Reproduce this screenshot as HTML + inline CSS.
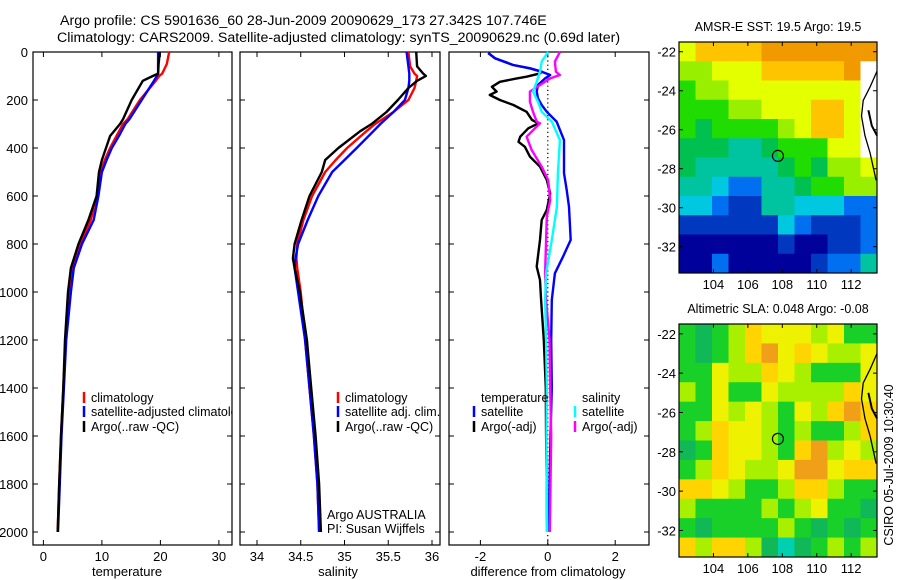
<!DOCTYPE html>
<html><head><meta charset="utf-8"><style>
body{margin:0;background:#fff;}
svg{display:block;font-family:"Liberation Sans",sans-serif;}
</style></head><body>
<svg id="c" width="900" height="580" viewBox="0 0 900 580" xmlns="http://www.w3.org/2000/svg">
<defs><clipPath id="clip1"><rect x="33" y="52" width="199" height="493"/></clipPath></defs>
<text x="60" y="25" font-size="14.2">Argo profile: CS 5901636_60 28-Jun-2009 20090629_173 27.342S 107.746E</text>
<text x="57" y="42" font-size="14.2">Climatology: CARS2009. Satellite-adjusted climatology: synTS_20090629.nc (0.69d later)</text>
</svg>
<script>
// ---------- data ----------
const tDepth = [0,50,90,100,120,200,280,300,350,400,450,500,600,700,800,900,1000,1200,1400,1600,1800,2000];
const tArgo  = [19.9,19.7,19.6,18.7,17,15.1,13.6,13.1,11.4,10.7,10,9.5,9.1,7.7,6,4.7,4.2,3.7,3.4,3.0,2.7,2.45];
const tClim  = [21.5,21.1,20.3,19.8,19.2,16.5,14.4,13.6,12.5,11.4,10.5,9.8,9.2,8.1,6.3,5,4.4,3.8,3.4,3.0,2.7,2.45];
const tSat   = [19.6,19.6,19.6,19.4,18.9,16.8,14.7,14,12.9,11.7,10.8,10,9.4,8.6,6.6,5.2,4.7,3.9,3.5,3.1,2.8,2.5];
const sDepth = [0,60,90,100,120,150,200,250,300,330,400,450,500,600,700,800,860,900,1000,1200,1400,1600,1800,2000];
const sArgo  = [35.82,35.83,35.9,35.93,35.83,35.73,35.61,35.48,35.31,35.18,34.93,34.78,34.74,34.6,34.51,34.43,34.41,34.43,34.49,34.57,34.62,34.67,34.71,34.73];
const sClim  = [35.73,35.75,35.8,35.83,35.82,35.8,35.73,35.56,35.35,35.25,35.03,34.9,34.78,34.63,34.53,34.46,34.45,34.46,34.5,34.55,34.6,34.65,34.69,34.71];
const sSat   = [35.71,35.73,35.74,35.74,35.74,35.73,35.69,35.56,35.41,35.33,35.14,35.0,34.86,34.7,34.58,34.47,34.44,34.43,34.47,34.55,34.6,34.65,34.69,34.71];
const dTSatDepth = [4,26,54,68,82,96,110,137,165,193,221,249,290,367,505,575,645,783,853,922,1033,1200,1400,1600,1800,2000];
const dTSat      = [-1.77,-1.57,-1.03,-0.53,-0.18,0.07,-0.08,-0.29,-0.33,-0.29,-0.18,-0.03,0.26,0.48,0.48,0.56,0.63,0.68,0.45,0.21,0.12,0.1,0.12,0.08,0.05,0.03];
const dTArgoDepth = [4,26,54,68,82,89,103,110,124,145,165,179,200,221,249,283,297,318,353,374,395,436,478,533,589,658,700,783,894,950,1033,1200,1400,1600,1800,2000];
const dTArgo      = [-1.77,-1.57,-1.03,-0.53,-0.18,-0.23,-0.63,-0.92,-1.42,-1.66,-1.52,-1.72,-1.42,-1.02,-0.63,-0.47,-0.28,-0.58,-0.82,-0.87,-0.68,-0.53,-0.23,-0.03,0.07,-0.03,-0.18,-0.23,-0.33,-0.23,-0.2,-0.12,-0.06,-0.05,-0.03,-0.02];
const dSSatDepth = [0,40,82,124,165,207,249,290,367,505,645,783,922,1033,1200,1400,1600,1800,2000];
const dSSat      = [0.01,-0.18,-0.23,-0.33,-0.44,-0.29,-0.18,0.12,0.36,0.30,0.27,0.12,-0.05,-0.08,-0.05,-0.03,-0.04,-0.03,-0.02];
const dSArgoDepth = [0,40,82,96,110,165,207,249,290,297,353,408,478,533,617,686,783,922,1033,1200,1400,1600,1800,2000];
const dSArgo      = [0.36,0.21,0.24,0.36,0.07,-0.53,-0.53,-0.44,-0.33,-0.23,-0.63,-0.48,-0.18,0.01,0.07,-0.03,-0.05,-0.08,-0.05,0.05,0.07,0.1,0.08,0.06];
const depthTicks = [0,200,400,600,800,1000,1200,1400,1600,1800,2000];
const tempTicks = [0,10,20,30];
const salTicks = [34,34.5,35,35.5,36];
const salTickLabels = ["34","34.5","35","35.5","36"];
const diffTicks = [-2,0,2];
const lonTicks = [104,106,108,110,112];
const latTicks = [22,24,26,28,30,32];
const sstGrid = [
"yYYYYOOOOOOO","LLyyyYYYYYOW","GLLyyyyyyyyW","GGGLLyyyYYyW","GgGGGGLyYYyW","gggTTgGGGyyW",
"gTTTTTgGgLLy","TTCBBTTgGGLL","CCBbbTTCCCBB","bbbbbbCBbbbB","NNNNNNbNNbbB","NNBNNNNNbBBT"];
const slaGrid = [
"GgGLYyyyLyGG","GgGLYOyYyLLy","GGyLLYyLGGGy","LGyGGyLLLLYy","GGyLyLGyLYOY","GLYyyLGLGGLY",
"gGYyyLGYOLyL","GLYyLLyOOyYY","YYyLGGLYYLGG","LGGGGLGLyGGg","GgGGGGLGgGgG","YLYYLgTgGLGL"];
const floatLon = 107.746, floatLat = 27.342;

// ---------- helpers ----------
const svg = document.getElementById('c');
const NS = 'http://www.w3.org/2000/svg';
function mk(tag, attrs, parent){const e=document.createElementNS(NS,tag);for(const k in attrs)e.setAttribute(k,attrs[k]);(parent||svg).appendChild(e);return e;}
const yTop=52, yPer=0.24, panelBottom=545;
const yD = d => yTop + d*yPer;
const panels = [
 {name:'temperature-panel', x0:33, x1:232, v0:(33-43.4)/5.85, scale:5.85, ticks:tempTicks, labels:tempTicks.map(String), xlabel:'temperature', lx:127},
 {name:'salinity-panel', x0:240, x1:440, v0:34-(257-240)/87.5, scale:87.5, ticks:salTicks, labels:salTickLabels, xlabel:'salinity', lx:338},
 {name:'difference-panel', x0:449, x1:649, v0:-(547.8-449)/33.7, scale:33.7, ticks:diffTicks, labels:diffTicks.map(String), xlabel:'difference from climatology', lx:548}
];
panels.forEach((p,i)=>{
  p.xf = v => p.x0 + (v-p.v0)*p.scale;
  const g = mk('g',{});
  
  
  p.g = g;
  const r = mk('rect',{x:p.x0,y:yTop,width:p.x1-p.x0,height:panelBottom-yTop,fill:'none',stroke:'#000','stroke-width':1.2},g);
  
  
  p.ticks.forEach((t,j)=>{
    const x=p.xf(t);
    mk('line',{x1:x,x2:x,y1:panelBottom,y2:panelBottom-5,stroke:'#000'},g);
    mk('line',{x1:x,x2:x,y1:yTop,y2:yTop+5,stroke:'#000'},g);
    const tl = mk('text',{x:x,y:561,'font-size':13,'text-anchor':'middle'},g);
    tl.textContent = p.labels[j];
    
    
  });
  depthTicks.forEach(d=>{
    mk('line',{x1:p.x0,x2:p.x0+5,y1:yD(d),y2:yD(d),stroke:'#000'},g);
    mk('line',{x1:p.x1,x2:p.x1-5,y1:yD(d),y2:yD(d),stroke:'#000'},g);
    if(i===0){
      const tl = mk('text',{x:28,y:yD(d)+5,'font-size':13,'text-anchor':'end'},g);
      tl.textContent = String(d);
      
      
    }
  });
  const xl = mk('text',{x:p.lx,y:576,'font-size':13,'text-anchor':'middle'},g);
  xl.textContent = p.xlabel;
  
  
});
function series(p, depths, vals, color, name, w){
  const pts = depths.map((d,k)=>p.xf(vals[k]).toFixed(1)+','+yD(d).toFixed(1)).join(' ');
  const pl = mk('polyline',{points:pts,fill:'none',stroke:color,'stroke-width':w||2.4,'stroke-linejoin':'round'},p.g);
  
  
}
const zl = mk('line',{x1:panels[2].xf(0),x2:panels[2].xf(0),y1:yTop,y2:panelBottom,stroke:'#000','stroke-dasharray':'1.2,3','stroke-width':1.2},panels[2].g);


series(panels[0], tDepth, tClim, '#f00', 'temperature-climatology-line');
series(panels[0], tDepth, tSat, '#00f', 'temperature-satellite-line');
series(panels[0], tDepth, tArgo, '#000', 'temperature-argo-line');
series(panels[1], sDepth, sClim, '#f00', 'salinity-climatology-line');
series(panels[1], sDepth, sSat, '#00f', 'salinity-satellite-line');
series(panels[1], sDepth, sArgo, '#000', 'salinity-argo-line');
series(panels[2], dTArgoDepth, dTArgo, '#000', 'temperature-argo-diff-line');
series(panels[2], dTSatDepth, dTSat, '#00f', 'temperature-satellite-diff-line');
series(panels[2], dSArgoDepth, dSArgo, '#f0f', 'salinity-argo-diff-line');
series(panels[2], dSSatDepth, dSSat, '#0ff', 'salinity-satellite-diff-line');

function legend(x, y, color, label, name, clip){
  const g = mk('g',{});
  
  
  if(clip) g.setAttribute('clip-path','url(#clip1)');
  if(color) mk('line',{x1:x,x2:x,y1:y-10,y2:y+1,stroke:color,'stroke-width':2.5},g);
  const t = mk('text',{x:x+7,y:y,'font-size':12.5},g);
  t.textContent = label;
}
legend(84,402,'#f00','climatology','legend-climatology',true);
legend(84,416,'#00f','satellite-adjusted climatology','legend-satellite-adjusted',true);
legend(84,431,'#000','Argo(..raw -QC)','legend-argo',true);
legend(338,402,'#f00','climatology','legend-sal-climatology');
legend(338,416,'#00f','satellite adj. clim.','legend-sal-satellite');
legend(338,431,'#000','Argo(..raw -QC)','legend-sal-argo');
legend(474,402,null,'temperature','legend-temperature-header');
legend(474,416,'#00f','satellite','legend-temp-satellite');
legend(474,431,'#000','Argo(-adj)','legend-temp-argo');
legend(575,402,null,'salinity','legend-salinity-header');
legend(575,416,'#0ff','satellite','legend-sal-satellite-diff');
legend(575,431,'#f0f','Argo(-adj)','legend-sal-argo-diff');
const a1 = mk('text',{x:327,y:519,'font-size':12.5}); a1.textContent='Argo AUSTRALIA';


const a2 = mk('text',{x:327,y:533,'font-size':12.5}); a2.textContent='PI: Susan Wijffels';



const palSST = {O:'#f09a00',Y:'#ffc400',y:'#e4ff00',L:'#98f000',G:'#20dc00',g:'#00c050',T:'#00c4a0',C:'#00c8e0',B:'#0070f0',b:'#0038c0',N:'#00009a',W:'#ffffff'};
const palSLA = {G:'#18d028',g:'#10b858',L:'#a8f000',y:'#eef200',Y:'#ffd400',O:'#f0a018',T:'#00d0b0'};
function map(name, top, bottom, grid, pal, title){
  const g = mk('g',{});
  
  
  const x0=679, x1=877, lon0=102.0, lon1=113.5, lat0=21.5, lat1=33.35;
  const xf = lon => x0+(lon-lon0)*(x1-x0)/(lon1-lon0);
  const yf = lat => top+(lat-lat0)*(bottom-top)/(lat1-lat0);
  const rows=grid.length, cols=grid[0].length;
  const cw=(x1-x0)/cols, ch=(bottom-top)/rows;
  grid.forEach((row,r)=>{[...row].forEach((c,k)=>{
    mk('rect',{x:x0+k*cw,y:top+r*ch,width:cw+0.5,height:ch+0.5,fill:pal[c]},g);
  });});
  const coast=[[113.5,23.0],[113.1,23.8],[112.7,24.5],[112.6,25.3],[112.8,26.3],[113.1,27.2],[113.3,28.0],[113.45,28.6]];
  mk('polyline',{points:coast.map(p=>xf(p[0])+','+yf(p[1])).join(' '),fill:'none',stroke:'#000','stroke-width':1.3},g);
  mk('polyline',{points:[[113.0,25.0],[113.2,25.8],[113.5,26.3]].map(p=>xf(p[0])+','+yf(p[1])).join(' '),fill:'none',stroke:'#000','stroke-width':2},g);
  const fr = mk('rect',{x:x0,y:top,width:x1-x0,height:bottom-top,fill:'none',stroke:'#000','stroke-width':1.2},g);
  
  
  lonTicks.forEach(l=>{
    const x=xf(l);
    mk('line',{x1:x,x2:x,y1:top,y2:top+4,stroke:'#000'},g);
    mk('line',{x1:x,x2:x,y1:bottom,y2:bottom-4,stroke:'#000'},g);
    const t=mk('text',{x:x,y:bottom+16,'font-size':13,'text-anchor':'middle'},g);
    t.textContent=String(l);
    
    
  });
  latTicks.forEach(l=>{
    const y=yf(l);
    mk('line',{x1:x0,x2:x0+4,y1:y,y2:y,stroke:'#000'},g);
    mk('line',{x1:x1,x2:x1-4,y1:y,y2:y,stroke:'#000'},g);
    const t=mk('text',{x:676,y:y+5,'font-size':13,'text-anchor':'end'},g);
    t.textContent='-'+l;
    
    
  });
  const c = mk('circle',{cx:xf(floatLon),cy:yf(floatLat),r:5.5,fill:'none',stroke:'#000','stroke-width':1.2},g);
  
  
  const tt=mk('text',{x:(x0+x1)/2,y:top-11,'font-size':12.5,'text-anchor':'middle'},g);
  tt.textContent=title;
  
  
}
map('sst-map',42,273,sstGrid,palSST,'AMSR-E SST: 19.5 Argo: 19.5');
map('sla-map',324,557,slaGrid,palSLA,'Altimetric SLA: 0.048 Argo: -0.08');
const ts = mk('text',{x:0,y:0,'font-size':12.5,'text-anchor':'middle',transform:'translate(893,465) rotate(-90)'});
ts.textContent='CSIRO 05-Jul-2009 10:30:40';


</script>
</body></html>
